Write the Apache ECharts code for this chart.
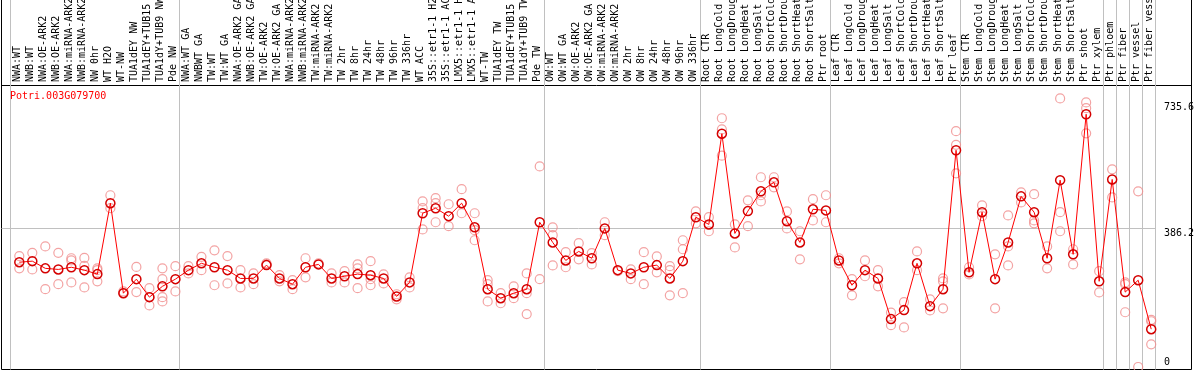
<!DOCTYPE html>
<html><head><meta charset="utf-8">
<script src="https://cdn.jsdelivr.net/npm/echarts@6/dist/echarts.min.js"></script>
<style>html,body{margin:0;padding:0;background:#fff}#c{width:1194px;height:370px}</style>
</head><body><div id="c"></div>
<script>
const geneId = 'Potri.003G079700';
const categories = [
 'NWA:WT','NWB:WT','NWA:OE-ARK2','NWB:OE-ARK2','NWA:miRNA-ARK2','NWB:miRNA-ARK2','NW 0hr','WT H2O','WT-NW','TUA1dEY NW','TUA1dEY+TUB15 NW','TUA1dY+TUB9 NW','Pde NW',
 'NWA:WT GA','NWBWT GA','TW:WT','TW:WT GA','NWA:OE-ARK2 GA','NWB:OE-ARK2 GA','TW:OE-ARK2','TW:OE-ARK2 GA','NWA:miRNA-ARK2 GA','NWB:miRNA-ARK2 GA','TW:miRNA-ARK2','TW:miRNA-ARK2 GA',
 'TW 2hr','TW 8hr','TW 24hr','TW 48hr','TW 96hr','TW 336hr','WT ACC','35S::etr1-1 H2O','35S::etr1-1 ACC','LMX5::etr1-1 H2O','LMX5::etr1-1 ACC','WT-TW','TUA1dEY TW','TUA1dEY+TUB15 TW','TUA1dY+TUB9 TW','Pde TW',
 'OW:WT','OW:WT GA','OW:OE-ARK2','OW:OE-ARK2 GA','OW:miRNA-ARK2','OW:miRNA-ARK2 GA','OW 2hr','OW 8hr','OW 24hr','OW 48hr','OW 96hr','OW 336hr',
 'Root CTR','Root LongCold','Root LongDrought','Root LongHeat','Root LongSalt','Root ShortCold','Root ShortDrought','Root ShortHeat','Root ShortSalt','Ptr root',
 'Leaf CTR','Leaf LongCold','Leaf LongDrought','Leaf LongHeat','Leaf LongSalt','Leaf ShortCold','Leaf ShortDrought','Leaf ShortHeat','Leaf ShortSalt','Ptr leaf',
 'Stem CTR','Stem LongCold','Stem LongDrought','Stem LongHeat','Stem LongSalt','Stem ShortCold','Stem ShortDrought','Stem ShortHeat','Stem ShortSalt','Ptr shoot','Ptr xylem',
 'Ptr phloem','Ptr fiber','Ptr vessel','Ptr fiber vessel'
];
const means = [
 291,294,274,271,277,269,258,455,205,244,194,224,244,
 269,288,277,269,246,246,283,246,230,277,285,246,252,258,255,246,196,235,427,441,419,455,388,216,191,205,216,402,
 346,296,321,302,385,269,260,277,283,246,294,416,
 396,648,371,433,488,513,405,346,438,435,
 296,227,269,246,133,158,288,169,216,602,
 263,430,244,346,474,430,302,519,313,702,238,
 521,208,241,105
];
const replicates = [
 [308,274],[317,271],[335,216],[317,230],[302,296,235],[303,281,221],[274,269,238],[477,441],[210,205],[278,208],
 [219,194,171],[274,244,194,182],[280,210],[280,260],[306,269],[324,227],[308,232],[269,221],[260,230],[285,288],
 [255,238],[241,216],[302,249],[288],[260,235],[266,235],[285,274,219],[294,244,227],[257,232],[202,188],
 [249,221],[460,441,382],[469,455,402],[452,391],[494,427],[427,380,352],[241,230,182],[205,177],[224,191],[260,205,147],
 [557,244],[388,366,282],[319,277],[344,299],[316,285],[402,366],[266],[271,244],[319,230],[307,263],
 [280,269,199],[352,327,205],[432,399],[416,377],[691,660,587],[396,332],[463,391],[527,477,460],[527,499],[432,385],
 [377,299],[466,407],[477,402],[302,288],[244,199],[296,252],[269,224],[151,116],[180,110],[321,269],
 [188,157],[246,238,163],[655,617,538],[277,257],[449,419],[313,163],[421,335,282],[485,457],[480,407,399],[335,274],
 [746,430,377],[327,285],[735,719,649],[266,207],[549,471],[235,230,152],[488,0],[131,127,63]
];
const groupStarts = [0,13,41,53,63,73,84,85,86,87];
const yTopLabels = [386.2, 735.6];
const yBottomLabels = [0];
const refLine = 386.2;

const mono = 'DejaVu Sans Mono';
const lineData = means.map((v, i) => [i, v]);
const repData = [];
replicates.forEach((arr, i) => arr.forEach(v => repData.push([i, v])));

const yMin = -7, yMax = 783.3;
const hiddenVal = {type: 'value', show: false};

const chart = echarts.init(document.getElementById('c'), null, {renderer: 'canvas'});
chart.setOption({
  animation: false,
  backgroundColor: '#fff',
  title: {text: geneId, left: 10, top: 91, padding: 0,
    textStyle: {color: '#ff0000', fontFamily: mono, fontSize: 10, fontWeight: 'normal'}},
  grid: [
    {left: 1.5, right: 2.5, top: -0.5, bottom: 0.5, show: true, borderColor: '#000', borderWidth: 1, backgroundColor: 'transparent', outerBoundsMode: 'none', containLabel: false},
    {left: 1.5, right: 2.5, top: -0.5, height: 86, show: true, borderColor: '#000', borderWidth: 1, backgroundColor: 'transparent', outerBoundsMode: 'none', containLabel: false},
    {left: 10.5, width: 1145, top: 0, bottom: 0.5, outerBoundsMode: 'none', containLabel: false},
    {left: 10.5, width: 1145, top: 0, height: 85, outerBoundsMode: 'none', containLabel: false},
    {left: 1.5, width: 1154, top: 85, bottom: 0.5, outerBoundsMode: 'none', containLabel: false}
  ],
  xAxis: [
    Object.assign({gridIndex: 0}, hiddenVal),
    Object.assign({gridIndex: 1}, hiddenVal),
    {gridIndex: 2, type: 'category', data: categories, boundaryGap: true,
      axisLine: {show: false}, axisTick: {show: false}, axisLabel: {show: false},
      splitLine: {show: true, interval: (i) => groupStarts.indexOf(i) >= 0, lineStyle: {color: '#c0c0c0', width: 1, type: 'solid'}}},
    {gridIndex: 3, type: 'category', data: categories, position: 'bottom', boundaryGap: true,
      axisLine: {show: false}, axisTick: {show: false}, splitLine: {show: false},
      axisLabel: {inside: true, rotate: 90, interval: 0, margin: 3, color: '#000', fontFamily: mono, fontSize: 10, hideOverlap: false}},
    {gridIndex: 4, type: 'value', min: -1.368, max: 87.33, show: false}
  ],
  yAxis: [
    Object.assign({gridIndex: 0}, hiddenVal),
    Object.assign({gridIndex: 1}, hiddenVal),
    Object.assign({gridIndex: 2}, hiddenVal),
    Object.assign({gridIndex: 3}, hiddenVal),
    {gridIndex: 4, type: 'value', min: yMin, max: yMax, position: 'right',
      axisLine: {show: false}, axisTick: {show: false}, splitLine: {show: false},
      axisLabel: {customValues: yTopLabels, verticalAlign: 'top', margin: 8.5, color: '#000', fontFamily: mono, fontSize: 10}},
    {gridIndex: 4, type: 'value', min: yMin, max: yMax, position: 'right',
      axisLine: {show: false}, axisTick: {show: false}, splitLine: {show: false},
      axisLabel: {customValues: yBottomLabels, verticalAlign: 'bottom', margin: 8.5, color: '#000', fontFamily: mono, fontSize: 10}}
  ],
  series: [
    {type: 'scatter', xAxisIndex: 4, yAxisIndex: 4, data: repData, z: 2,
      symbol: 'circle', symbolSize: 9, silent: true,
      itemStyle: {color: 'rgba(0,0,0,0)', borderColor: '#f08c8c', borderWidth: 1.2},
      markLine: {silent: true, symbol: 'none', label: {show: false}, z: 1,
        lineStyle: {color: '#c0c0c0', width: 1, type: 'solid'}, data: [{yAxis: refLine}]}},
    {type: 'line', xAxisIndex: 4, yAxisIndex: 4, data: lineData, z: 3,
      symbol: 'circle', symbolSize: 9, showSymbol: true, silent: true,
      lineStyle: {color: '#ff0000', width: 1},
      itemStyle: {color: 'rgba(0,0,0,0)', borderColor: '#d40000', borderWidth: 1.5}}
  ]
});
</script></body></html>
